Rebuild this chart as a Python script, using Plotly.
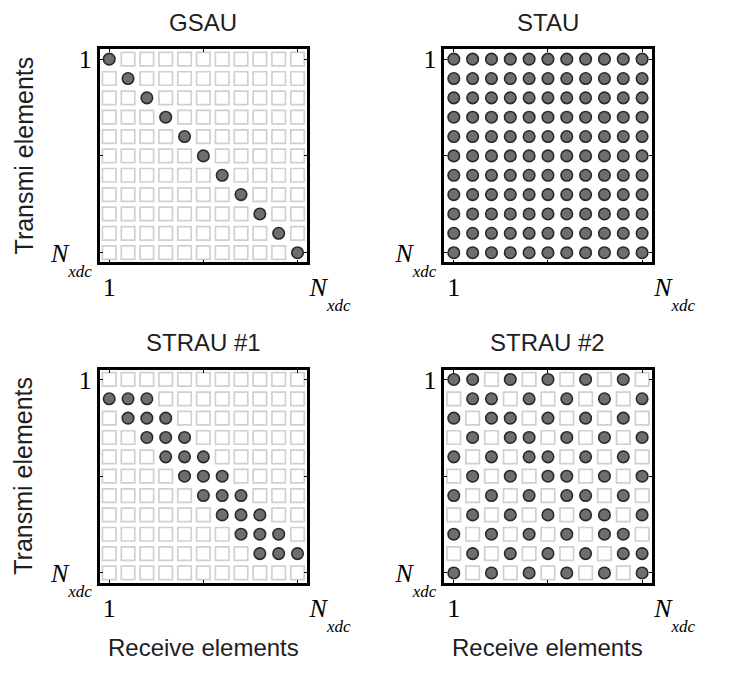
import plotly.graph_objects as go

N = 11
cells = list(range(1, N + 1))

titles = ["GSAU", "STAU", "STRAU #1", "STRAU #2"]

# Filled cells: one list of receive-element columns per transmit-element row
gsau_rows = [[1], [2], [3], [4], [5], [6], [7], [8], [9], [10], [11]]
stau_rows = [[1, 2, 3, 4, 5, 6, 7, 8, 9, 10, 11]] * 11
strau1_rows = [[], [1, 2, 3], [2, 3, 4], [3, 4, 5], [4, 5, 6], [5, 6, 7],
               [6, 7, 8], [7, 8, 9], [8, 9, 10], [9, 10, 11], []]
strau2_rows = [[1, 2, 4, 6, 8, 10], [2, 3, 5, 7, 9, 11], [1, 3, 4, 6, 8, 10],
               [2, 4, 5, 7, 9, 11], [1, 3, 5, 6, 8, 10], [2, 4, 6, 7, 9, 11],
               [1, 3, 5, 7, 8, 10], [2, 4, 6, 8, 9, 11], [1, 3, 5, 7, 9, 10],
               [2, 4, 6, 8, 10, 11], [1, 3, 5, 7, 9, 11]]
patterns = [gsau_rows, stau_rows, strau1_rows, strau2_rows]

tick_vals = [1, 11]
minor_vals = [6]
sub = "<span style='font-size:17px;baseline-shift:-15px'><i>xdc</i></span>"
x_tick_text = ["1", "&nbsp;" * 10 + "<i>N</i>" + sub]
y_tick_text = ["1", "<i>N</i>" + sub]

W, H = 735, 679
x_domains = [[106 / W, 326 / W], [472 / W, 692 / W]]
y_domains = [[1 - 267 / H, 1 - 47 / H], [1 - 598 / H, 1 - 378 / H]]

fig = go.Figure()
serif = "Liberation Serif, Times New Roman, serif"
sans = "Liberation Sans, Arial, sans-serif"
txt = "#1e1e1e"

for k, rows in enumerate(patterns):
    ax = "" if k == 0 else str(k + 1)
    ex, ey = [], []
    fx, fy = [], []
    for i, row in enumerate(rows, start=1):
        for j in cells:
            if j in row:
                fx.append(j); fy.append(i)
            else:
                ex.append(j); ey.append(i)
    fig.add_trace(go.Scatter(x=ex, y=ey, mode="markers", xaxis="x" + ax, yaxis="y" + ax,
                             marker=dict(symbol="square-open", size=13.5, color="#d0d0d0",
                                         line=dict(width=1.7, color="#d0d0d0")),
                             showlegend=False, hoverinfo="skip"))
    fig.add_trace(go.Scatter(x=fx, y=fy, mode="markers", xaxis="x" + ax, yaxis="y" + ax,
                             marker=dict(symbol="circle", size=11.5, color="#6e6e6e",
                                         line=dict(width=1.6, color="#2a2a2a")),
                             showlegend=False, hoverinfo="skip"))
    col, rw = k % 2, k // 2
    common = dict(showgrid=False, zeroline=False, showline=True, linecolor="black",
                  linewidth=2.5, mirror="allticks", ticks="inside", ticklen=3,
                  tickwidth=1, tickcolor="black", tickvals=tick_vals,
                  minor=dict(tickvals=minor_vals, ticks="inside", ticklen=3,
                             tickwidth=1, tickcolor="black", showgrid=False),
                  tickfont=dict(family=serif, size=26, color="black"))
    fig.update_layout(**{
        "xaxis" + ax: dict(domain=x_domains[col], range=[0.5, 11.5], ticktext=x_tick_text,
                           anchor="y" + ax, **common),
        "yaxis" + ax: dict(domain=y_domains[rw], range=[11.5, 0.5], ticktext=y_tick_text,
                           anchor="x" + ax, **common),
    })
    fig.add_annotation(text=titles[k], xref="paper", yref="paper",
                       x=sum(x_domains[col]) / 2, y=y_domains[rw][1] + 28 / H,
                       xanchor="center", yanchor="middle", showarrow=False,
                       font=dict(family=sans, size=24, color=txt))

for rw in range(2):
    fig.add_annotation(text="Transmi elements", xref="paper", yref="paper",
                       x=25 / W, y=sum(y_domains[rw]) / 2, textangle=-90,
                       xanchor="center", yanchor="middle", showarrow=False,
                       font=dict(family=sans, size=25, color=txt))
for col in range(2):
    fig.add_annotation(text="Receive elements", xref="paper", yref="paper",
                       x=sum(x_domains[col]) / 2, y=1 - 665 / H,
                       xanchor="center", yanchor="middle", showarrow=False,
                       font=dict(family=sans, size=24, color=txt))

fig.update_layout(width=W, height=H, margin=dict(l=0, r=0, t=0, b=0),
                  paper_bgcolor="white", plot_bgcolor="white")
fig.write_html("out.html")
